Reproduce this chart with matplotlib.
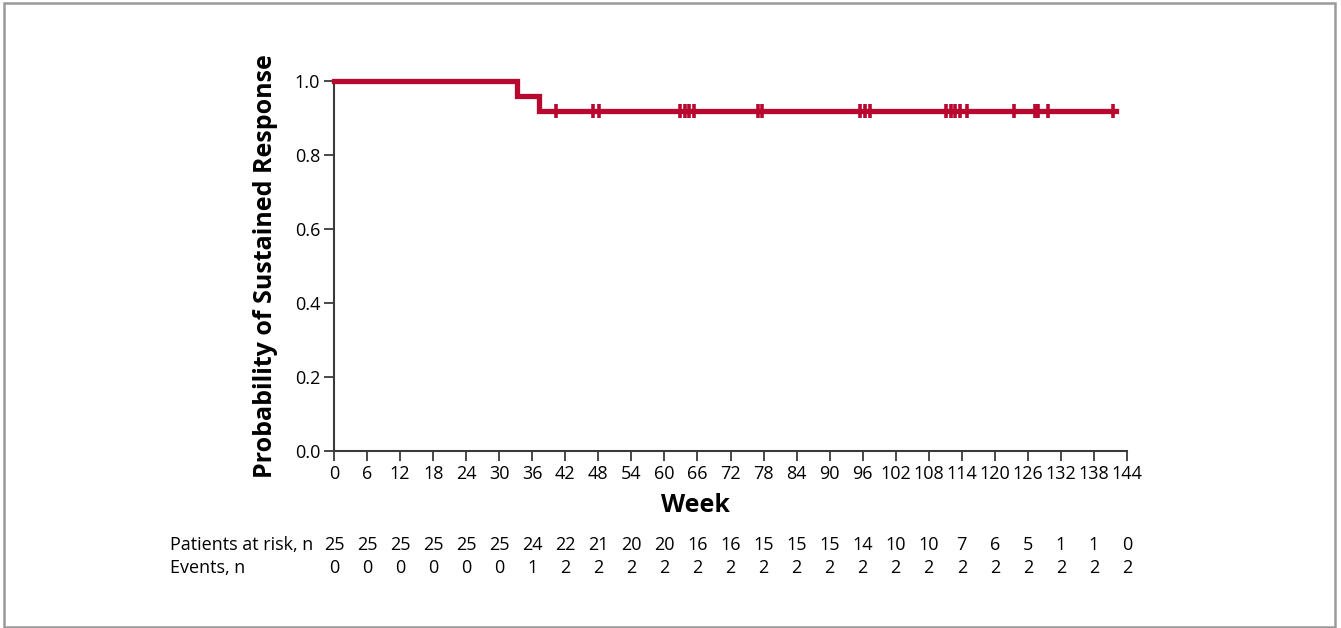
import matplotlib
matplotlib.use("Agg")
import matplotlib.pyplot as plt
import numpy as np

plt.rcParams["font.family"] = ["Open Sans", "DejaVu Sans"]

# Kaplan-Meier step curve (week, probability)
step_weeks = [0, 33.3, 37.3, 142]
step_prob = [1.0, 0.96, 0.92, 0.92]

# censored observations (weeks)
censor_weeks = [40.3, 47.1, 48.2, 62.9, 63.7, 64.5, 65.3, 77.0, 77.8,
                95.5, 96.4, 97.3, 111.1, 112.0, 112.8, 113.7, 114.9,
                123.4, 127.3, 127.9, 129.7, 141.4]
censor_prob = 0.92

week_ticks = list(range(0, 145, 6))
at_risk = [25, 25, 25, 25, 25, 25, 24, 22, 21, 20, 20, 16, 16, 15, 15, 15,
           14, 10, 10, 7, 6, 5, 1, 1, 0]
events = [0, 0, 0, 0, 0, 0, 1, 2, 2, 2, 2, 2, 2, 2, 2, 2, 2, 2, 2, 2, 2, 2,
          2, 2, 2]

red = "#B8082F"
axis_col = "#3a3a3a"

fig = plt.figure(figsize=(13.41, 6.28), dpi=100)
ax = fig.add_axes([0.2491, 0.2818, 0.5913, 0.589])

ax.step(step_weeks, step_prob, where="post", color=red, lw=3.8,
        solid_joinstyle="miter", clip_on=False, zorder=3)
ax.plot(censor_weeks, [censor_prob] * len(censor_weeks), ls="none",
        marker="|", ms=10, mew=2.6, color=red, clip_on=False, zorder=4)

ax.set_xlim(0, 144)
ax.set_ylim(0, 1.0)
ax.set_xticks(week_ticks)
ax.set_yticks(np.arange(0, 1.01, 0.2))
ax.set_yticklabels([f"{v:.1f}" for v in np.arange(0, 1.01, 0.2)])
ax.tick_params(axis="both", labelsize=13, colors="black", length=7,
               width=1.3, direction="out", color=axis_col, pad=3)

for side in ["top", "right"]:
    ax.spines[side].set_visible(False)
for side in ["left", "bottom"]:
    ax.spines[side].set_color(axis_col)
    ax.spines[side].set_linewidth(1.5)

ax.set_ylabel("Probability of Sustained Response", fontsize=18,
              fontweight="bold", labelpad=12)
ax.text(0.456, -0.148, "Week", transform=ax.transAxes, ha="center",
        va="center", fontsize=18, fontweight="bold")

# numbers at risk table
row1_y = -0.255
row2_y = -0.317
trans = ax.get_xaxis_transform()
for wk, n, e in zip(week_ticks, at_risk, events):
    ax.text(wk, row1_y, str(n), transform=trans, ha="center", va="center",
            fontsize=13)
    ax.text(wk, row2_y, str(e), transform=trans, ha="center", va="center",
            fontsize=13)
fig.text(170 / 1341, 1 - 545 / 628, "Patients at risk, n", ha="left",
         va="center", fontsize=13)
fig.text(170 / 1341, 1 - 568 / 628, "Events, n", ha="left", va="center",
         fontsize=13)

# outer frame
frame = plt.Rectangle((4 / 1341, 0.002), 1331 / 1341, 1 - 4 / 628,
                      transform=fig.transFigure, fill=False,
                      edgecolor="#9a9a9a", lw=1.8)
fig.patches.append(frame)

fig.savefig("out.png", dpi=100)
